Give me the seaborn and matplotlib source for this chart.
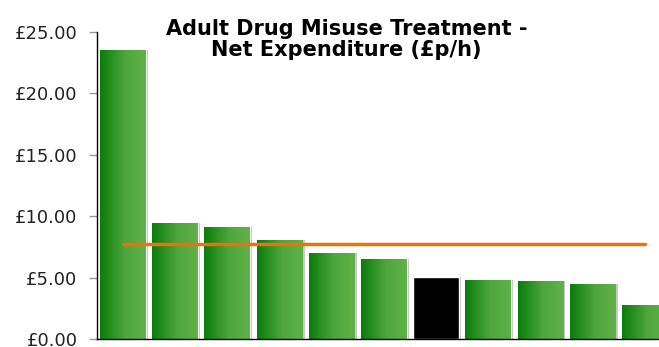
import numpy as np
import pandas as pd
import matplotlib
matplotlib.use("Agg")
import matplotlib.pyplot as plt
from matplotlib.colors import LinearSegmentedColormap
import seaborn as sns

# --- data ---
areas = [f"Area {i+1}" for i in range(11)]
spend = [23.55, 9.45, 9.12, 8.06, 7.00, 6.50, 5.05, 4.82, 4.72, 4.48, 2.77]
highlight = [False, False, False, False, False, False, True, False, False, False, False]
average = 7.77
yticks = [0, 5, 10, 15, 20, 25]

df = pd.DataFrame({"area": areas, "spend": spend, "highlight": highlight})

sns.set_style("white")
plt.rcParams['font.family'] = ['DejaVu Sans']

fig = plt.figure(figsize=(6.59, 3.47), dpi=100)
ax = fig.add_axes([97 / 659, 8 / 347, (671 - 97) / 659, (339 - 32) / 347])

sns.barplot(data=df, x="area", y="spend", hue="highlight",
            palette={False: "#2e8f22", True: "black"}, dodge=False,
            width=0.88, legend=False, ax=ax, saturation=1)

# gradient fill for the green bars
green = LinearSegmentedColormap.from_list(
    "g", [(0, "#0b7d0b"), (0.55, "#4ea63c"), (1, "#5fb247")])
grad = np.linspace(0, 1, 64).reshape(1, -1)
for patch in list(ax.patches):
    x0, y0 = patch.get_x(), patch.get_y()
    w, h = patch.get_width(), patch.get_height()
    if h <= 0:
        continue
    idx = int(round(x0 + w / 2))
    # faint shadow on the right edge
    ax.bar(x0 + w + 0.012, h, width=0.025, bottom=y0, align="edge",
           color="#c8c8c8", zorder=1.5, linewidth=0)
    if highlight[idx]:
        continue
    im = ax.imshow(grad, cmap=green, aspect="auto",
                   extent=[x0, x0 + w, y0, y0 + h], zorder=2.5)
    im.set_clip_path(patch)

# average line from first to last bar centre
ax.plot([0, len(spend) - 1], [average, average], color="#e8720c", lw=2.5, zorder=4)

ax.set_xlim(-0.5, len(spend) - 0.5)
ax.set_ylim(0, 25)
ax.set_yticks(yticks)
ax.set_yticklabels([f"£{v:.2f}" for v in yticks], fontsize=13, color="#222222")
ax.set_xticks([])
ax.set_xlabel("")
ax.set_ylabel("")
ax.tick_params(axis="y", left=True, length=6, width=1, color="#999999", pad=8)
for s in ["top", "right"]:
    ax.spines[s].set_visible(False)
ax.spines["left"].set_color("black")
ax.spines["bottom"].set_color("black")
ax.spines["left"].set_linewidth(1)
ax.spines["bottom"].set_linewidth(1)

fig.text(346.5 / 659, 1 - 19 / 347,
         "Adult Drug Misuse Treatment -\nNet Expenditure (£p/h)",
         ha="center", va="top", fontsize=15, fontweight="bold",
         color="black", linespacing=1.05)

fig.savefig("out.png", dpi=100)
